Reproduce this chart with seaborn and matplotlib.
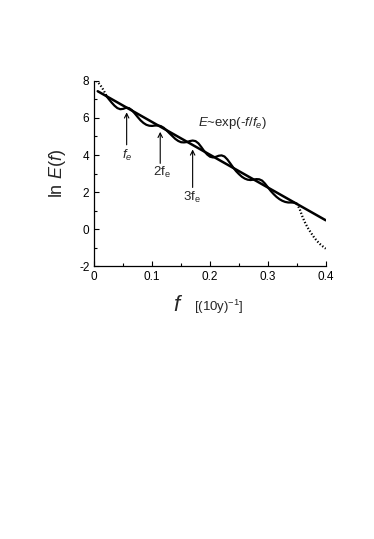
import pandas as pd
import matplotlib
matplotlib.use("Agg")
import matplotlib.pyplot as plt
import seaborn as sns
from matplotlib.ticker import MultipleLocator

# --- data ---
# dotted start of the spectrum
f_start = [0.003, 0.006, 0.009, 0.012, 0.015, 0.018, 0.021]
lnE_start = [8.0, 7.93, 7.83, 7.70, 7.55, 7.38, 7.20]

# solid middle part (wiggles around the fit)
f_mid = [0.020, 0.025, 0.030, 0.035, 0.040, 0.045, 0.050, 0.055, 0.060, 0.065,
         0.070, 0.075, 0.080, 0.085, 0.090, 0.095, 0.100, 0.105, 0.110, 0.115,
         0.120, 0.125, 0.130, 0.135, 0.140, 0.145, 0.150, 0.155, 0.160, 0.165,
         0.170, 0.175, 0.180, 0.185, 0.190, 0.195, 0.200, 0.205, 0.210, 0.215,
         0.220, 0.225, 0.230, 0.235, 0.240, 0.245, 0.250, 0.255, 0.260, 0.265,
         0.270, 0.275, 0.280, 0.285, 0.290, 0.295, 0.300, 0.305, 0.310, 0.315,
         0.320, 0.325, 0.330, 0.335, 0.340, 0.345, 0.350]
lnE_mid = [7.22, 7.02, 6.83, 6.66, 6.53, 6.47, 6.49, 6.55, 6.53, 6.42,
           6.24, 6.05, 5.87, 5.73, 5.63, 5.58, 5.57, 5.59, 5.59, 5.56,
           5.47, 5.33, 5.17, 5.02, 4.87, 4.76, 4.69, 4.68, 4.70, 4.75,
           4.78, 4.75, 4.63, 4.43, 4.21, 4.03, 3.91, 3.87, 3.90, 3.96,
           3.98, 3.92, 3.76, 3.55, 3.33, 3.13, 2.97, 2.83, 2.73, 2.67,
           2.65, 2.67, 2.70, 2.69, 2.62, 2.46, 2.26, 2.06, 1.89, 1.74,
           1.62, 1.53, 1.47, 1.44, 1.44, 1.43, 1.38]

# dotted tail
f_end = [0.350, 0.355, 0.360, 0.365, 0.370, 0.375, 0.380, 0.385, 0.390, 0.395, 0.400]
lnE_end = [1.38, 1.08, 0.65, 0.30, 0.02, -0.22, -0.45, -0.64, -0.80, -0.93, -1.05]

# exponential fit (straight line in log scale)
fit_f = [0.006, 0.400]
fit_lnE = [7.44, 0.48]

# harmonic arrows: x, tail y, head y, label, label y
arrow_f = [0.056, 0.114, 0.170]
arrow_tail = [4.55, 3.55, 2.25]
arrow_head = [6.30, 5.25, 4.30]
arrow_lbl = [r"$f_e$", r"2f$_\mathregular{e}$", r"3f$_\mathregular{e}$"]
arrow_lbl_x = [0.0566, 0.1166, 0.169]
arrow_lbl_y = [4.0, 3.05, 1.72]

x_ticks = [0, 0.1, 0.2, 0.3, 0.4]
x_ticklabels = ["0", "0.1", "0.2", "0.3", "0.4"]
y_ticks = [-2, 0, 2, 4, 6, 8]
y_ticklabels = ["-2", "0", "2", "4", "6", "8"]

sns.set_style("ticks")
plt.rcParams["font.family"] = ["Liberation Sans", "DejaVu Sans"]
plt.rcParams["mathtext.fontset"] = "custom"
plt.rcParams["mathtext.it"] = "Liberation Sans:italic"
plt.rcParams["mathtext.rm"] = "Liberation Sans"

fig = plt.figure(figsize=(3.74, 5.39), dpi=100)
ax = fig.add_axes([0.252, 0.506, 0.619, 0.344])

start = pd.DataFrame({"f": f_start, "lnE": lnE_start})
mid = pd.DataFrame({"f": f_mid, "lnE": lnE_mid})
end = pd.DataFrame({"f": f_end, "lnE": lnE_end})
fit = pd.DataFrame({"f": fit_f, "lnE": fit_lnE})

sns.lineplot(data=start, x="f", y="lnE", ax=ax, color="black", lw=1.6,
             linestyle=(0, (0.6, 0.9)), sort=False)
sns.lineplot(data=mid, x="f", y="lnE", ax=ax, color="black", lw=1.6, sort=False)
sns.lineplot(data=end, x="f", y="lnE", ax=ax, color="black", lw=1.6,
             linestyle=(0, (0.6, 0.9)), sort=False)
sns.lineplot(data=fit, x="f", y="lnE", ax=ax, color="black", lw=1.8, sort=False)

for x, t, h in zip(arrow_f, arrow_tail, arrow_head):
    ax.annotate("", xy=(x, h), xytext=(x, t),
                arrowprops=dict(arrowstyle="->", color="black", lw=0.8,
                                mutation_scale=8, shrinkA=0, shrinkB=0))
for lx, ly, lbl in zip(arrow_lbl_x, arrow_lbl_y, arrow_lbl):
    ax.text(lx, ly, lbl, ha="center", va="center", fontsize=9.5)

ax.text(0.238, 5.72, r"$E$~exp(-$f$/$f_e$)", ha="center", va="center", fontsize=9.5)

ax.set_xlim(0, 0.4)
ax.set_ylim(-2, 8)
ax.set_xticks(x_ticks)
ax.set_xticklabels(x_ticklabels)
ax.set_yticks(y_ticks)
ax.set_yticklabels(y_ticklabels)
ax.xaxis.set_minor_locator(MultipleLocator(0.05))
ax.yaxis.set_minor_locator(MultipleLocator(1))
ax.tick_params(which="both", direction="in", width=0.8, labelsize=8.5, colors="black")
ax.tick_params(which="major", length=3.5, pad=3.5)
ax.tick_params(which="minor", length=2)
for s in ["left", "bottom"]:
    ax.spines[s].set_linewidth(0.9)
    ax.spines[s].set_color("black")
sns.despine(ax=ax)

ax.set_xlabel("")
ax.set_ylabel(r"ln $E$($f$)", fontsize=13, labelpad=8)
ax.text(0.362, -0.242, r"$f$", transform=ax.transAxes, fontsize=16,
        ha="center", va="baseline")
ax.text(0.537, -0.242, r"[(10y)$^\mathregular{-1}$]", transform=ax.transAxes,
        fontsize=9.5, ha="center", va="baseline")

fig.savefig("out.png", dpi=100)
